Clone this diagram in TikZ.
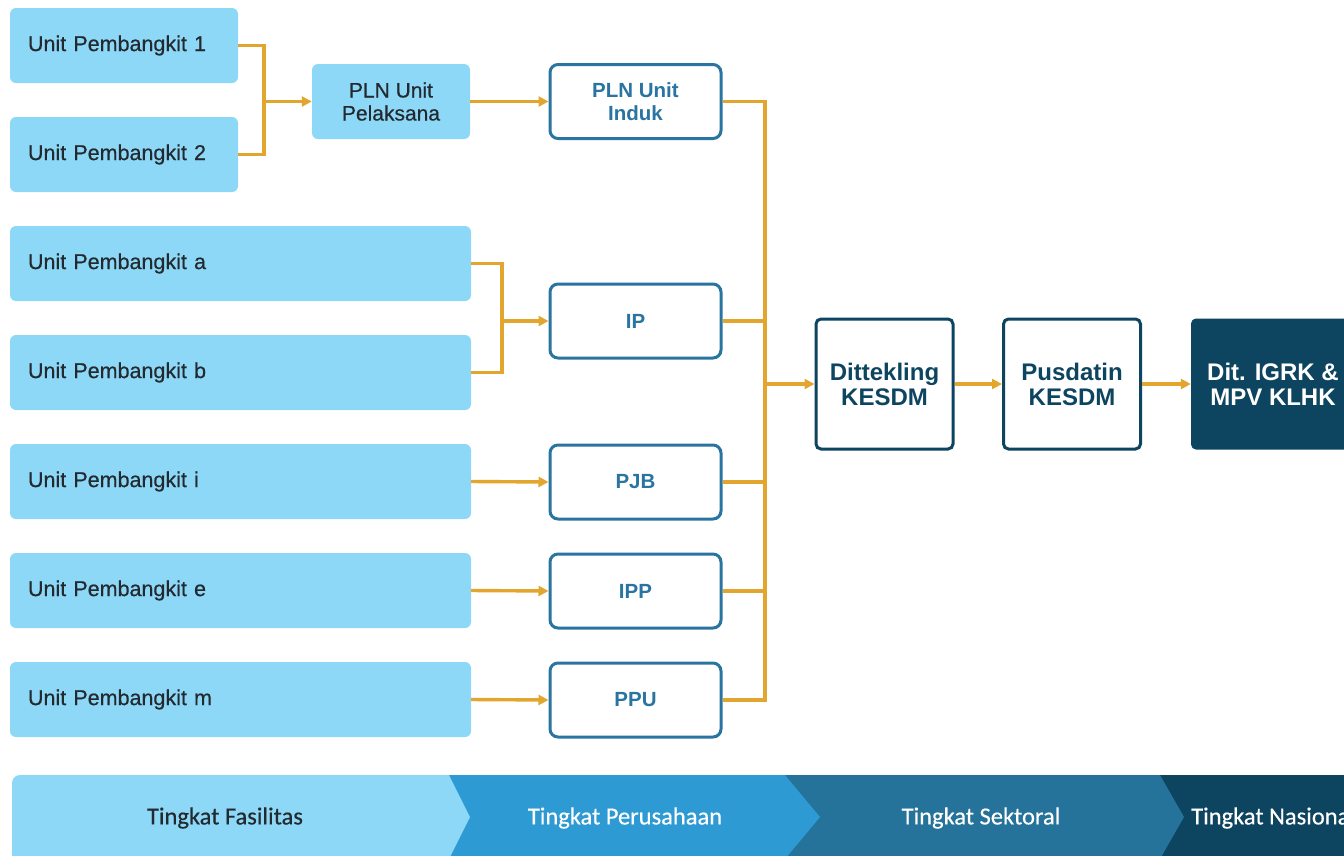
\documentclass[tikz,border=0pt]{standalone}
\usepackage{fontspec}
\setmainfont{Liberation Sans}
\newfontfamily\medfont[FakeBold=0.5]{Liberation Sans}
\newfontfamily\barfont[FakeBold=0.4]{Carlito}
\usetikzlibrary{arrows.meta}
\definecolor{lblue}{HTML}{8ED8F7}
\definecolor{gold}{HTML}{E2A62E}
\definecolor{midblue}{HTML}{2A74A1}
\definecolor{navy}{HTML}{0D4560}
\definecolor{segtwo}{HTML}{2D9AD4}
\definecolor{segthree}{HTML}{25729A}
\definecolor{darktext}{HTML}{222A30}
\tikzset{
  unitbox/.style={fill=lblue, rounded corners=6pt, inner xsep=18pt, inner ysep=0pt,
    minimum height=75pt, align=left, text=darktext,
    font=\medfont\fontsize{21.5}{24}\selectfont},
  plnbox/.style={fill=lblue, rounded corners=6pt, minimum width=158pt, minimum height=75pt,
    align=center, text=darktext, inner sep=0pt, font=\medfont\fontsize{21}{23}\selectfont},
  compbox/.style={draw=midblue, line width=3pt, fill=white, rounded corners=8pt,
    minimum width=171pt, minimum height=74pt, align=center, text=midblue, inner sep=0pt,
    font=\bfseries\fontsize{20.5}{23}\selectfont},
  secbox/.style={draw=navy, line width=3pt, fill=white, rounded corners=5pt,
    minimum width=137pt, minimum height=130pt, align=center, text=navy, inner sep=0pt,
    font=\bfseries\fontsize{24}{25}\selectfont},
  natbox/.style={fill=navy, rounded corners=5pt, minimum width=164pt, minimum height=131pt,
    align=center, text=white, inner sep=0pt, font=\bfseries\fontsize{24}{25}\selectfont},
  link/.style={draw=gold, line width=3.4pt},
  arrowlink/.style={link, -{Triangle[length=10pt,width=10pt]}},
  bartext/.style={font=\barfont\fontsize{24.5}{26}\selectfont, inner sep=0pt}
}
\begin{document}
\begin{tikzpicture}[x=1pt,y=-1pt]
\useasboundingbox (0,0) rectangle (1344,855);
% facility units
\node[unitbox, text width=192pt] (u1) at (124,45.5) {Unit Pembangkit 1};
\node[unitbox, text width=192pt] (u2) at (124,154.5) {Unit Pembangkit 2};
\node[unitbox, text width=425pt] (ua) at (240.5,263.5) {Unit Pembangkit a};
\node[unitbox, text width=425pt] (ub) at (240.5,372.5) {Unit Pembangkit b};
\node[unitbox, text width=425pt] (ui) at (240.5,481.5) {Unit Pembangkit i};
\node[unitbox, text width=425pt] (ue) at (240.5,590.5) {Unit Pembangkit e};
\node[unitbox, text width=425pt] (um) at (240.5,699.5) {Unit Pembangkit m};
% PLN unit pelaksana
\node[plnbox] (plnp) at (391,101.5) {PLN Unit\\Pelaksana};
% companies
\node[compbox] (induk) at (635.5,101.5) {PLN Unit\\Induk};
\node[compbox] (ip) at (635.5,321) {IP};
\node[compbox] (pjb) at (635.5,482) {PJB};
\node[compbox] (ipp) at (635.5,591) {IPP};
\node[compbox] (ppu) at (635.5,700) {PPU};
% sectoral / national
\node[secbox] (ditt) at (884.5,384) {Dittekling\\KESDM};
\node[secbox] (pusd) at (1072,384) {Pusdatin\\KESDM};
\node[natbox] (igrk) at (1273,384) {Dit. IGRK \&\\MPV KLHK};
% connectors
\coordinate (j1) at (264,101.5);
\draw[link] (u1.east) -| (j1);
\draw[link] (u2.east) -| (j1);
\draw[arrowlink] (j1) -- (plnp.west);
\draw[arrowlink] (plnp.east) -- (induk.west);
\coordinate (j2) at (502,321);
\draw[link] (ua.east) -| (j2);
\draw[link] (ub.east) -| (j2);
\draw[arrowlink] (j2) -- (ip.west);
\draw[arrowlink] (ui.east) -- (pjb.west);
\draw[arrowlink] (ue.east) -- (ipp.west);
\draw[arrowlink] (um.east) -- (ppu.west);
\coordinate (bus) at (765,384);
\draw[link] (induk.east) -| (bus);
\draw[link] (ppu.east) -| (bus);
\draw[link] (ip.east) -- (ip.east -| bus);
\draw[link] (pjb.east) -- (pjb.east -| bus);
\draw[link] (ipp.east) -- (ipp.east -| bus);
\draw[arrowlink] (bus) -- (ditt.west);
\draw[arrowlink] (ditt.east) -- (pusd.west);
\draw[arrowlink] (pusd.east) -- (igrk.west);
% level bar
\fill[navy] (1100,775) rectangle (1360,870);
\fill[segthree] (770,775) -- (1160,775) -- (1184,817) -- (1160,859) -- (770,859) -- cycle;
\fill[segtwo] (440,775) -- (785,775) -- (820,817) -- (785,859) -- (440,859) -- cycle;
\fill[lblue, rounded corners=8pt] (12,775) rectangle (300,880);
\fill[lblue] (200,775) -- (449,775) -- (470,817) -- (449,859) -- (200,859) -- cycle;
\node[bartext, text=darktext] (l1) at (225,818) {Tingkat Fasilitas};
\node[bartext, text=white] (l2) at (625,818) {Tingkat Perusahaan};
\node[bartext, text=white] (l3) at (981,818) {Tingkat Sektoral};
\node[bartext, text=white, anchor=west] (l4) at (1191,818) {Tingkat Nasional};
\end{tikzpicture}
\end{document}
